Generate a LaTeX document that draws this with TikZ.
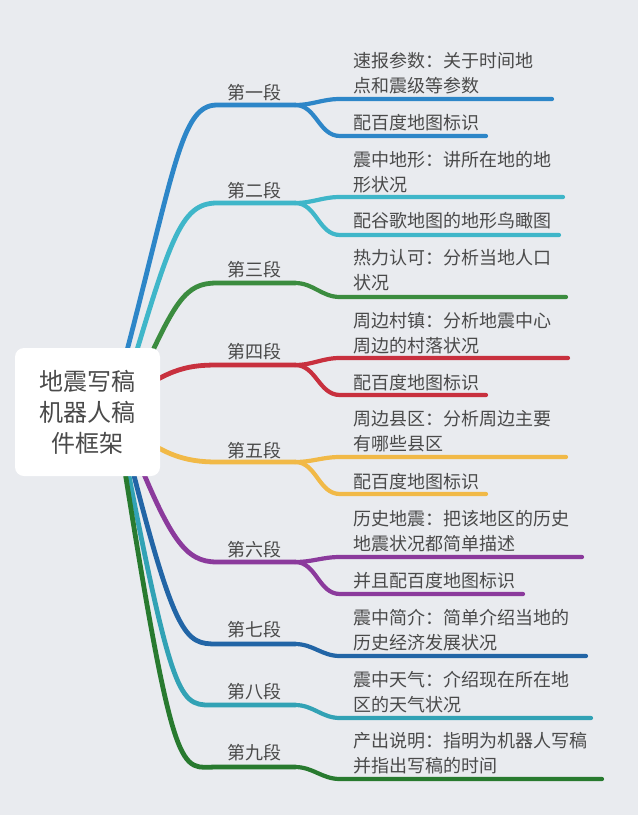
\documentclass[tikz,border=0pt]{standalone}
\usepackage{fontspec}
\setmainfont{Noto Sans CJK SC}
\definecolor{bg}{HTML}{E9EBEF}
\definecolor{txt}{HTML}{4A4A4A}
\definecolor{c1}{HTML}{2D86C8}
\definecolor{c2}{HTML}{3FB6C9}
\definecolor{c3}{HTML}{3B8C3F}
\definecolor{c4}{HTML}{C8303E}
\definecolor{c5}{HTML}{F1B947}
\definecolor{c6}{HTML}{8B3A9C}
\definecolor{c7}{HTML}{2265A6}
\definecolor{c8}{HTML}{32A2B5}
\definecolor{c9}{HTML}{287A2F}
\begin{document}
\begin{tikzpicture}[x=1pt,y=-1pt,
  trunk/.style={line width=4.8pt,line cap=round},
  twig/.style={line width=4.2pt,line cap=round},
  lab/.style={anchor=base west,inner sep=0pt,text=txt,font=\fontsize{18}{25}\selectfont},
  leaf/.style={anchor=base west,inner sep=0pt,text=txt,align=left,font=\fontsize{18}{25}\selectfont},
  rootbox/.style={fill=white,rounded corners=9pt,minimum width=145pt,minimum height=128pt,inner sep=0pt,align=center,text=txt,font=\fontsize{24}{31}\selectfont}]
\fill[bg] (0,0) rectangle (638,815);
\useasboundingbox (0,0) rectangle (638,815);

% start points (hidden behind the root box)
\coordinate (s1) at (118,385);
\coordinate (s2) at (125,390);
\coordinate (s3) at (135,390);
\coordinate (s4) at (120,405);
\coordinate (s5) at (120,420);
\coordinate (s6) at (130,440);
\coordinate (s7) at (125,440);
\coordinate (s8) at (122,440);
\coordinate (s9) at (120,440);
% level ends and junctions
\foreach \i/\y in {1/105,2/203,3/283,4/365,5/462,6/562,7/644,8/705,9/767}{
  \coordinate (e\i) at (217,\y);
  \coordinate (j\i) at (295,\y);
}
% trunks
\draw[trunk,c1] (s1) .. controls (175,170) and (180,105) .. (e1) -- (j1);
\draw[trunk,c2] (s2) .. controls (170,240) and (180,203) .. (e2) -- (j2);
\draw[trunk,c3] (s3) .. controls (175,300) and (185,283) .. (e3) -- (j3);
\draw[trunk,c4] (s4) .. controls (165,370) and (185,365) .. (e4) -- (j4);
\draw[trunk,c5] (s5) .. controls (160,455) and (185,462) .. (e5) -- (j5);
\draw[trunk,c6] (s6) .. controls (170,540) and (185,562) .. (e6) -- (j6);
\draw[trunk,c7] (s7) .. controls (175,640) and (185,644) .. (e7) -- (j7);
\draw[trunk,c8] (s8) .. controls (175,715) and (180,705) .. (e8) -- (j8);
\draw[trunk,c9] (s9) .. controls (175,790) and (180,767) .. (e9) -- (j9);

% child branch coordinates
\coordinate (a1) at (340,99);  \coordinate (a1e) at (552,99);
\coordinate (b1) at (340,136); \coordinate (b1e) at (486,136);
\coordinate (a2) at (340,197); \coordinate (a2e) at (563,197);
\coordinate (b2) at (340,235); \coordinate (b2e) at (559,235);
\coordinate (a3) at (340,297); \coordinate (a3e) at (566,297);
\coordinate (a4) at (340,358); \coordinate (a4e) at (568,358);
\coordinate (b4) at (340,395); \coordinate (b4e) at (486,395);
\coordinate (a5) at (340,457); \coordinate (a5e) at (566,457);
\coordinate (b5) at (340,494); \coordinate (b5e) at (486,494);
\coordinate (a6) at (340,557); \coordinate (a6e) at (582,557);
\coordinate (b6) at (340,594); \coordinate (b6e) at (523,594);
\coordinate (a7) at (340,656); \coordinate (a7e) at (586,656);
\coordinate (a8) at (340,718); \coordinate (a8e) at (591,718);
\coordinate (a9) at (340,779); \coordinate (a9e) at (602,779);

\draw[twig,c1] (j1) to[out=0,in=180] (a1) -- (a1e);
\draw[twig,c1] (j1) to[out=0,in=180] (b1) -- (b1e);
\draw[twig,c2] (j2) to[out=0,in=180] (a2) -- (a2e);
\draw[twig,c2] (j2) to[out=0,in=180] (b2) -- (b2e);
\draw[twig,c3] (j3) to[out=0,in=180] (a3) -- (a3e);
\draw[twig,c4] (j4) to[out=0,in=180] (a4) -- (a4e);
\draw[twig,c4] (j4) to[out=0,in=180] (b4) -- (b4e);
\draw[twig,c5] (j5) to[out=0,in=180] (a5) -- (a5e);
\draw[twig,c5] (j5) to[out=0,in=180] (b5) -- (b5e);
\draw[twig,c6] (j6) to[out=0,in=180] (a6) -- (a6e);
\draw[twig,c6] (j6) to[out=0,in=180] (b6) -- (b6e);
\draw[twig,c7] (j7) to[out=0,in=180] (a7) -- (a7e);
\draw[twig,c8] (j8) to[out=0,in=180] (a8) -- (a8e);
\draw[twig,c9] (j9) to[out=0,in=180] (a9) -- (a9e);

% root
\node[rootbox] (root) at (87.5,412) {地震写稿\\机器人稿\\件框架};

% level labels
\node[lab] (l1) at (227,99)  {第一段};
\node[lab] (l2) at (227,197) {第二段};
\node[lab] (l3) at (227,276) {第三段};
\node[lab] (l4) at (227,358) {第四段};
\node[lab] (l5) at (227,457) {第五段};
\node[lab] (l6) at (227,556) {第六段};
\node[lab] (l7) at (227,636) {第七段};
\node[lab] (l8) at (227,698) {第八段};
\node[lab] (l9) at (227,759) {第九段};

% leaf texts (anchor = baseline of the last line)
\node[leaf] (t1a) at (353,92)  {速报参数：关于时间地\\点和震级等参数};
\node[leaf] (t1b) at (353,129) {配百度地图标识};
\node[leaf] (t2a) at (353,191) {震中地形：讲所在地的地\\形状况};
\node[leaf] (t2b) at (353,227) {配谷歌地图的地形鸟瞰图};
\node[leaf] (t3)  at (353,289) {热力认可：分析当地人口\\状况};
\node[leaf] (t4a) at (353,352) {周边村镇：分析地震中心\\周边的村落状况};
\node[leaf] (t4b) at (353,389) {配百度地图标识};
\node[leaf] (t5a) at (353,450) {周边县区：分析周边主要\\有哪些县区};
\node[leaf] (t5b) at (353,488) {配百度地图标识};
\node[leaf] (t6a) at (353,550) {历史地震：把该地区的历史\\地震状况都简单描述};
\node[leaf] (t6b) at (353,587) {并且配百度地图标识};
\node[leaf] (t7)  at (353,649) {震中简介：简单介绍当地的\\历史经济发展状况};
\node[leaf] (t8)  at (353,711) {震中天气：介绍现在所在地\\区的天气状况};
\node[leaf] (t9)  at (353,772) {产出说明：指明为机器人写稿\\并指出写稿的时间};
\end{tikzpicture}
\end{document}
